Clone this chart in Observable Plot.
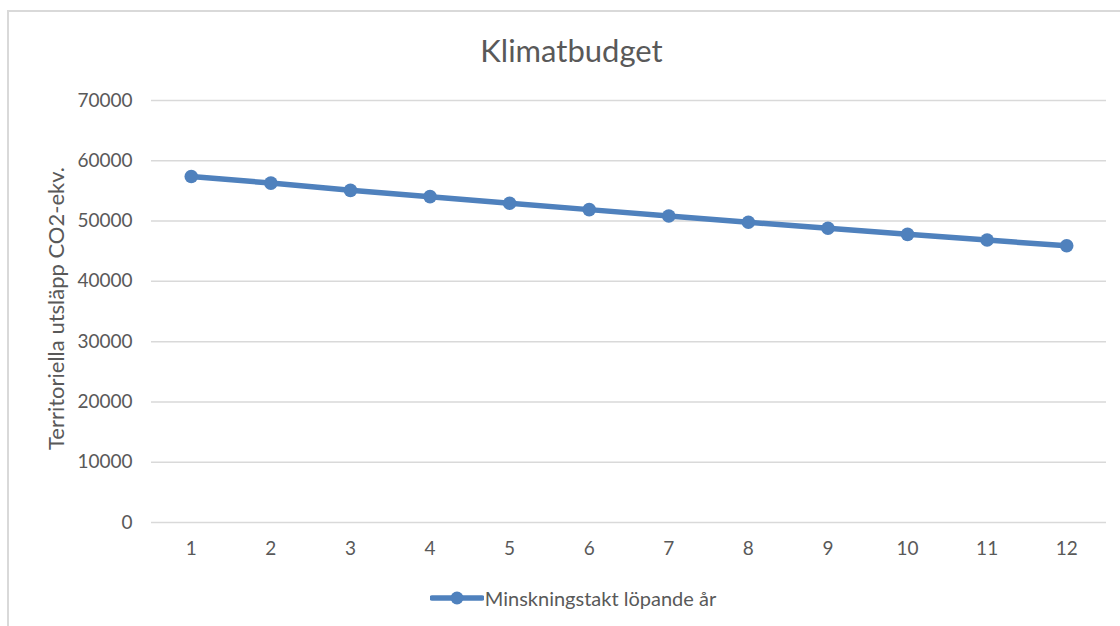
<!DOCTYPE html>
<html><head><meta charset="utf-8">
<script src="https://cdn.jsdelivr.net/npm/d3@7"></script>
<script src="https://cdn.jsdelivr.net/npm/@observablehq/plot@0.6"></script>
<style>
body{margin:0;background:#fff;width:1120px;height:626px;overflow:hidden;position:relative;font-family:Lato,sans-serif}
#frame{position:absolute;left:7px;top:10px;width:1200px;height:700px;border:2px solid #d9d9d9;box-sizing:border-box}
#chart{position:absolute;left:0;top:0}
#title{position:absolute;top:32px;left:0;width:1143px;text-align:center;font-size:31px;color:#595959;line-height:36px}
#legend{position:absolute;top:586px;left:0;width:1146px;display:flex;justify-content:center;align-items:center;font-size:20px;color:#595959;line-height:24px}
#legend svg{margin-right:1px}
</style></head>
<body>
<div id="frame"></div>
<div id="chart"></div>
<div id="title"></div>
<div id="legend"></div>
<script>
const years = [1,2,3,4,5,6,7,8,9,10,11,12];
const emissions = [57400,56300,55100,54050,52950,51900,50850,49800,48800,47800,46850,45900];
const yTicks = [0,10000,20000,30000,40000,50000,60000,70000];
const titleText = "Klimatbudget";
const yLabel = "Territoriella utsläpp CO2-ekv.";
const seriesName = "Minskningstakt löpande år";
const color = "#4f81bd";

const data = years.map((y,i)=>({year:y, value:emissions[i]}));

const chart = Plot.plot({
  width:1120, height:626,
  marginLeft:151, marginRight:14, marginTop:100, marginBottom:104,
  style:{fontFamily:"Lato, sans-serif", fontSize:"19px", color:"#595959", background:"transparent"},
  x:{type:"point", domain:years, padding:0.5, round:false, label:null},
  y:{domain:[0,70000], label:null},
  marks:[
    Plot.gridY(yTicks,{stroke:"#d9d9d9", strokeOpacity:1, strokeWidth:1.5}),
    Plot.axisY(yTicks,{tickSize:0, tickPadding:19, tickFormat:d=>String(d), fill:"#595959", label:null}),
    Plot.axisX({tickSize:0, tickPadding:19, fill:"#595959", label:null}),
    Plot.text([yLabel],{frameAnchor:"left", textAnchor:"middle", dx:-95, dy:-3, rotate:-90, fill:"#595959", fontSize:22}),
    Plot.line(data,{x:"year", y:"value", stroke:color, strokeWidth:5.5}),
    Plot.dot(data,{x:"year", y:"value", r:6.8, fill:color})
  ]
});
document.getElementById("chart").appendChild(chart);
document.getElementById("title").textContent = titleText;

const leg = document.getElementById("legend");
const sw = d3.create("svg").attr("width",54).attr("height",16);
sw.append("line").attr("x1",2).attr("x2",52).attr("y1",8).attr("y2",8).attr("stroke",color).attr("stroke-width",5.5).attr("stroke-linecap","round");
sw.append("circle").attr("cx",27).attr("cy",8).attr("r",6.5).attr("fill",color);
leg.appendChild(sw.node());
const sp = document.createElement("span"); sp.textContent = seriesName; leg.appendChild(sp);
</script>
</body></html>
